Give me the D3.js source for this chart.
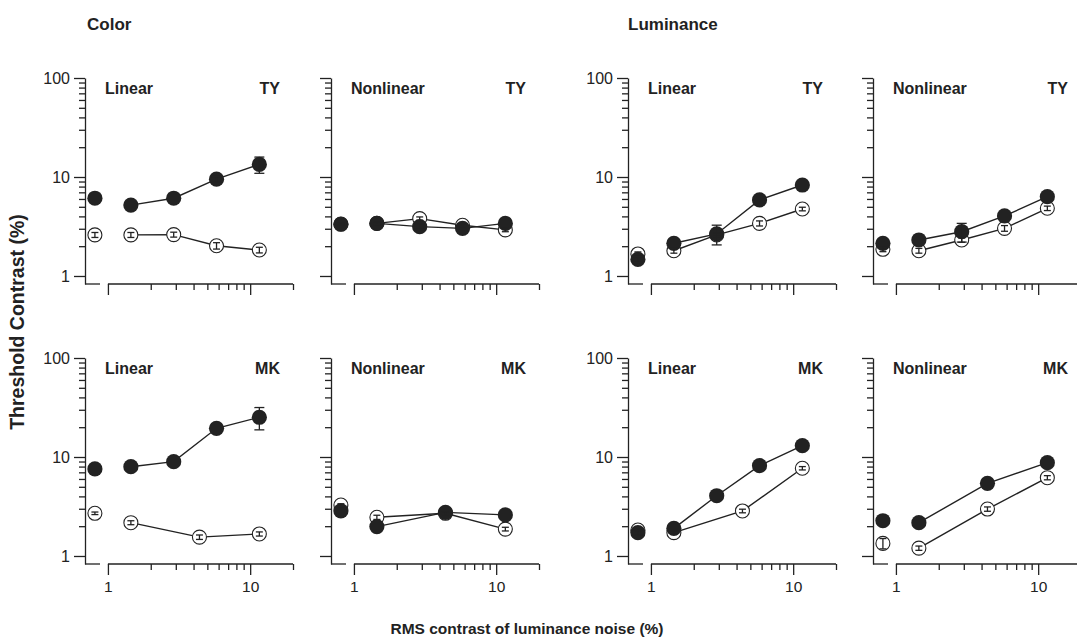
<!DOCTYPE html>
<html>
<head>
<meta charset="utf-8">
<script src="https://cdn.jsdelivr.net/npm/d3@7"></script>
<style>
  body { margin: 0; background: #fff; }
  text { font-family: "Liberation Sans", Arial, Helvetica, sans-serif; fill: #222; }
</style>
</head>
<body>
<script>
// x values (RMS noise contrast %) - first point is the no-noise condition
let xFive = [0.81, 1.45, 2.9, 5.8, 11.6]
let xFour = [0.81, 1.45, 4.4, 11.6]

let groups = ["Color", "Luminance"]
let models = ["Linear", "Nonlinear"]
let observers = ["TY", "MK"]
let yTicksMajor = [1, 10, 100]
let yTicksMinor = [2, 3, 4, 5, 6, 7, 8, 9, 20, 30, 40, 50, 60, 70, 80, 90]
let xTicksMajor = [1, 10]
let xTicksMinor = [2, 3, 4, 5, 6, 7, 8, 9, 20]

// threshold contrast (%) per panel: filled / open symbols, with error half-ranges
let colorTYLinFilled = [6.1, 5.2, 6.1, 9.5, 13.4]
let colorTYLinFilledErr = [0, 0, 0, 0.6, 2.5]
let colorTYLinOpen = [2.6, 2.6, 2.62, 2.02, 1.83]
let colorTYLinOpenErr = [0.15, 0.15, 0.15, 0.15, 0.12]

let colorTYNonFilled = [3.33, 3.4, 3.15, 3.03, 3.4]
let colorTYNonFilledErr = [0, 0, 0.2, 0, 0]
let colorTYNonOpen = [3.35, 3.4, 3.8, 3.25, 2.92]
let colorTYNonOpenErr = [0.1, 0.1, 0.15, 0.1, 0.12]

let lumTYLinFilled = [1.47, 2.14, 2.66, 5.86, 8.3]
let lumTYLinFilledErr = [0.1, 0, 0.6, 0, 0]
let lumTYLinOpen = [1.67, 1.8, 2.6, 3.4, 4.75]
let lumTYLinOpenErr = [0.08, 0.1, 0.1, 0.2, 0.2]

let lumTYNonFilled = [2.14, 2.31, 2.8, 4.04, 6.32]
let lumTYNonFilledErr = [0, 0, 0.6, 0, 0]
let lumTYNonOpen = [1.86, 1.8, 2.31, 3.03, 4.83]
let lumTYNonOpenErr = [0.1, 0.1, 0.12, 0.2, 0.25]

let colorMKLinFilled = [7.57, 7.98, 8.97, 19.5, 25.2]
let colorMKLinFilledErr = [0, 0, 0, 0, 6.4]
let colorMKLinOpen = [2.7, 2.17, 1.55, 1.67]
let colorMKLinOpenErr = [0.08, 0.1, 0.08, 0.08]

let colorMKNonFilled = [2.85, 1.98, 2.76, 2.6]
let colorMKNonFilledErr = [0, 0, 0, 0]
let colorMKNonOpen = [3.27, 2.46, 2.7, 1.87]
let colorMKNonOpenErr = [0.1, 0.12, 0.1, 0.08]

let lumMKLinFilled = [1.72, 1.9, 4.06, 8.17, 13.0]
let lumMKLinFilledErr = [0.1, 0, 0, 0, 0]
let lumMKLinOpen = [1.83, 1.72, 2.85, 7.7]
let lumMKLinOpenErr = [0.05, 0.06, 0.12, 0.3]

let lumMKNonFilled = [2.27, 2.17, 5.42, 8.77]
let lumMKNonFilledErr = [0, 0, 0, 0]
let lumMKNonOpen = [1.34, 1.2, 2.98, 6.18]
let lumMKNonOpenErr = [0.16, 0.06, 0.15, 0.3]

// panel table built from the arrays above (row, col)
let panels = [
  { row: 0, col: 0, model: 0, obs: 0, fx: xFive, fy: colorTYLinFilled, fe: colorTYLinFilledErr, ox: xFive, oy: colorTYLinOpen, oe: colorTYLinOpenErr },
  { row: 0, col: 1, model: 1, obs: 0, fx: xFive, fy: colorTYNonFilled, fe: colorTYNonFilledErr, ox: xFive, oy: colorTYNonOpen, oe: colorTYNonOpenErr },
  { row: 0, col: 2, model: 0, obs: 0, fx: xFive, fy: lumTYLinFilled, fe: lumTYLinFilledErr, ox: xFive, oy: lumTYLinOpen, oe: lumTYLinOpenErr },
  { row: 0, col: 3, model: 1, obs: 0, fx: xFive, fy: lumTYNonFilled, fe: lumTYNonFilledErr, ox: xFive, oy: lumTYNonOpen, oe: lumTYNonOpenErr },
  { row: 1, col: 0, model: 0, obs: 1, fx: xFive, fy: colorMKLinFilled, fe: colorMKLinFilledErr, ox: xFour, oy: colorMKLinOpen, oe: colorMKLinOpenErr },
  { row: 1, col: 1, model: 1, obs: 1, fx: xFour, fy: colorMKNonFilled, fe: colorMKNonFilledErr, ox: xFour, oy: colorMKNonOpen, oe: colorMKNonOpenErr },
  { row: 1, col: 2, model: 0, obs: 1, fx: xFive, fy: lumMKLinFilled, fe: lumMKLinFilledErr, ox: xFour, oy: lumMKLinOpen, oe: lumMKLinOpenErr },
  { row: 1, col: 3, model: 1, obs: 1, fx: xFour, fy: lumMKNonFilled, fe: lumMKNonFilledErr, ox: xFour, oy: lumMKNonOpen, oe: lumMKNonOpenErr }
]

let width = 1077, height = 642
let colX = [85, 331, 628, 873]   // y-axis position of each column
let rowY = [78, 358]             // top (100%) of each row
let plotW = 208, plotH = 206
let ink = "#222"

let svg = d3.select("body").append("svg")
    .attr("width", width)
    .attr("height", height)

panels.forEach(p => {
  let x0 = colX[p.col], y0 = rowY[p.row]
  let x = d3.scaleLog().domain([0.69, 20]).range([x0, x0 + plotW])
  let y = d3.scaleLog().domain([0.83, 100]).range([y0 + plotH, y0])
  let g = svg.append("g")

  // y axis: major + minor ticks
  let yMaj = g.append("g").attr("transform", `translate(${x0},0)`)
    .call(d3.axisLeft(y).tickValues(yTicksMajor).tickSize(11).tickSizeOuter(0)
      .tickFormat(p.col % 2 == 0 ? d3.format("d") : ""))
  yMaj.selectAll("text").attr("font-size", 16)
    .attr("x", -15).attr("dy", "0.35em")
  let yMin = g.append("g").attr("transform", `translate(${x0},0)`)
    .call(d3.axisLeft(y).tickValues(yTicksMinor).tickSize(6).tickFormat(""))
  yMin.select(".domain").remove()
  // short baseline segment under the no-noise point
  g.append("line")
    .attr("x1", x0).attr("x2", x0 + 15)
    .attr("y1", y0 + plotH).attr("y2", y0 + plotH)

  // x axis, starting at 1
  let xMaj = g.append("g").attr("transform", `translate(0,${y0 + plotH})`)
    .call(d3.axisBottom(x).tickValues(xTicksMajor).tickSize(11)
      .tickFormat(p.row == 1 ? d3.format("d") : ""))
  xMaj.select(".domain").remove()
  xMaj.selectAll("text").attr("font-size", 15.5).attr("y", 17)
  let xMin = g.append("g").attr("transform", `translate(0,${y0 + plotH})`)
    .call(d3.axisBottom(x).tickValues(xTicksMinor).tickSize(6).tickFormat(""))
  xMin.select(".domain").remove()
  g.append("line")
    .attr("x1", x(1)).attr("x2", x(20))
    .attr("y1", y0 + plotH).attr("y2", y0 + plotH)

  g.selectAll("line, path").attr("stroke", ink).attr("stroke-width", 1.3)
  g.selectAll(".domain").attr("fill", "none")

  // panel labels
  g.append("text").attr("x", x0 + 20).attr("y", y0 + 16)
    .attr("font-size", 16).attr("font-weight", "bold").text(models[p.model])
  g.append("text").attr("x", x0 + 195).attr("y", y0 + 16)
    .attr("text-anchor", "end")
    .attr("font-size", 16).attr("font-weight", "bold").text(observers[p.obs])

  let line = d3.line().x(d => x(d[0])).y(d => y(d[1]))
  let openPts = p.ox.map((v, i) => [v, p.oy[i], p.oe[i]])
  let fillPts = p.fx.map((v, i) => [v, p.fy[i], p.fe[i]])

  // connecting lines skip the no-noise point
  g.append("path").datum(openPts.slice(1)).attr("d", line)
    .attr("fill", "none").attr("stroke", ink).attr("stroke-width", 1.4)
  g.append("path").datum(fillPts.slice(1)).attr("d", line)
    .attr("fill", "none").attr("stroke", ink).attr("stroke-width", 1.4)

  g.selectAll(".open").data(openPts).enter().append("circle")
    .attr("cx", d => x(d[0])).attr("cy", d => y(d[1])).attr("r", 7)
    .attr("fill", "#fff").attr("stroke", ink).attr("stroke-width", 1.1)
  g.selectAll(".filled").data(fillPts).enter().append("circle")
    .attr("cx", d => x(d[0])).attr("cy", d => y(d[1])).attr("r", 7.6)
    .attr("fill", ink)

  // error bars
  let drawErr = (pts, cap) => {
    pts.filter(d => d[2] > 0).forEach(d => {
      let cx = x(d[0]), top = y(d[1] + d[2]), bot = y(d[1] - d[2])
      let eb = g.append("g").attr("stroke", ink).attr("stroke-width", 1.3)
      eb.append("line").attr("x1", cx).attr("x2", cx).attr("y1", top).attr("y2", bot)
      eb.append("line").attr("x1", cx - cap).attr("x2", cx + cap).attr("y1", top).attr("y2", top)
      eb.append("line").attr("x1", cx - cap).attr("x2", cx + cap).attr("y1", bot).attr("y2", bot)
    })
  }
  drawErr(openPts, 3.5)
  drawErr(fillPts, 5)
})

// group titles
svg.append("text").attr("x", colX[0] + 2).attr("y", 30)
  .attr("font-size", 17).attr("font-weight", "bold").text(groups[0])
svg.append("text").attr("x", colX[2]).attr("y", 30)
  .attr("font-size", 17).attr("font-weight", "bold").text(groups[1])

// axis titles
svg.append("text")
  .attr("transform", "translate(24,322) rotate(-90)")
  .attr("text-anchor", "middle")
  .attr("font-size", 19.5).attr("font-weight", "bold")
  .text("Threshold Contrast (%)")
svg.append("text").attr("x", 527).attr("y", 634)
  .attr("text-anchor", "middle")
  .attr("font-size", 15.5).attr("font-weight", "bold")
  .text("RMS contrast of luminance noise (%)")
</script>
</body>
</html>
